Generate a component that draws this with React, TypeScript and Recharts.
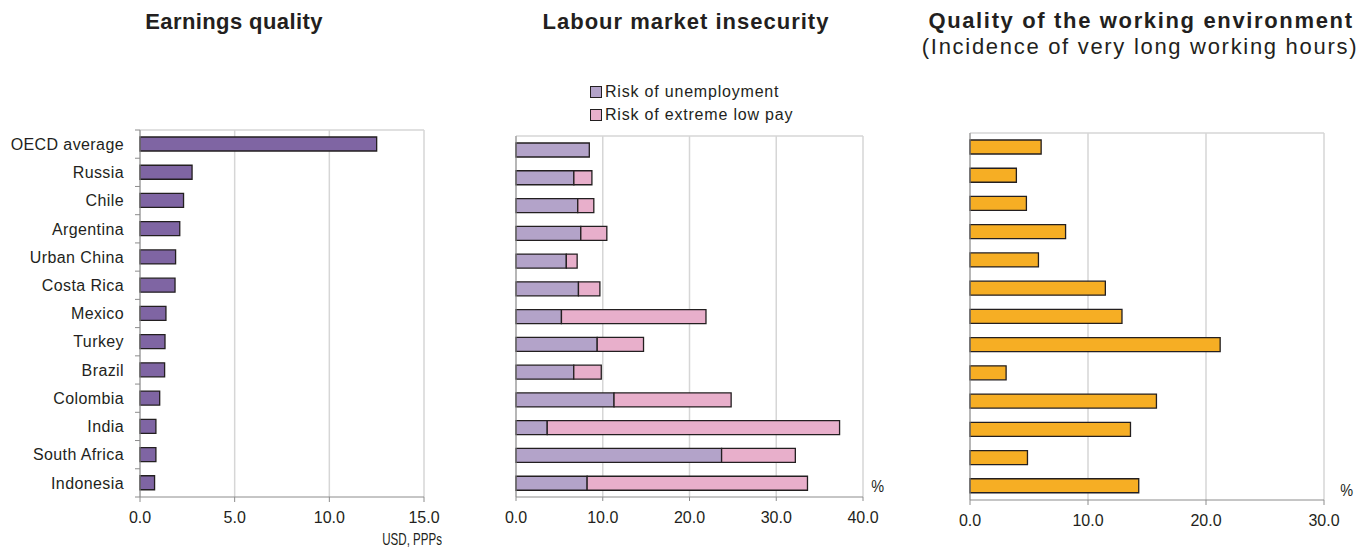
import React from "react";
import { Bar, BarChart, CartesianGrid, Legend, XAxis, YAxis } from "recharts";

const countries = [
  "OECD average",
  "Russia",
  "Chile",
  "Argentina",
  "Urban China",
  "Costa Rica",
  "Mexico",
  "Turkey",
  "Brazil",
  "Colombia",
  "India",
  "South Africa",
  "Indonesia",
];
const earningsQuality = [12.5, 2.75, 2.3, 2.1, 1.88, 1.85, 1.37, 1.32, 1.3, 1.04, 0.84, 0.84, 0.77];
const unemploymentRisk = [8.45, 6.67, 7.12, 7.47, 5.8, 7.2, 5.24, 9.36, 6.66, 11.3, 3.6, 23.7, 8.2];
const lowPayRisk = [0, 2.08, 1.85, 3.0, 1.25, 2.47, 16.66, 5.34, 3.17, 13.5, 33.7, 8.5, 25.4];
const longHours = [6.03, 3.93, 4.78, 8.1, 5.8, 11.47, 12.88, 21.2, 3.06, 15.8, 13.6, 4.87, 14.3];

const earningsTicks = [0, 5, 10, 15];
const insecurityTicks = [0, 10, 20, 30, 40];
const hoursTicks = [0, 10, 20, 30];

const FONT = "'Liberation Sans', Arial, sans-serif";
const TEXT = "#231f20";
const AXIS = "#8c8c8c";
const GRID = "#d6d6d6";
const EDGE = "#231f20";

const data = countries.map((name, i) => ({
  name,
  earnings: earningsQuality[i],
  unemployment: unemploymentRisk[i],
  lowPay: lowPayRisk[i],
  hours: longHours[i],
}));

const fmt = (v: number) => v.toFixed(1);
const topLine = ({ offset }: any) => [offset.top];

// panel 1 plot box
const P1_TOP = 130;
const P1_BOTTOM = 497;
const BAND1 = (P1_BOTTOM - P1_TOP) / countries.length;

function CountryTick(props: any) {
  const { x, y, payload, index } = props;
  const axisX = x + 16;
  const half = BAND1 / 2;
  return (
    <g>
      <line x1={axisX - 5} x2={axisX} y1={y - half} y2={y - half} stroke={AXIS} />
      {index === countries.length - 1 && (
        <line x1={axisX - 5} x2={axisX} y1={y + half} y2={y + half} stroke={AXIS} />
      )}
      <text
        x={x}
        y={y}
        dy="0.36em"
        textAnchor="end"
        fill={TEXT}
        fontSize={16}
        fontFamily={FONT}
        letterSpacing={0.4}
      >
        {payload.value}
      </text>
    </g>
  );
}

const xTick = { fill: TEXT, fontSize: 16, fontFamily: FONT };

function InsecurityLegend() {
  const rows = [
    { label: "Risk of unemployment", color: "#b3a3c9" },
    { label: "Risk of extreme low pay", color: "#e8afcb" },
  ];
  return (
    <div style={{ fontFamily: FONT, fontSize: 16, color: TEXT, letterSpacing: 0.8 }}>
      {rows.map((r) => (
        <div key={r.label} style={{ display: "flex", alignItems: "center", height: 23 }}>
          <span
            style={{
              display: "inline-block",
              width: 10,
              height: 10,
              background: r.color,
              border: `1px solid ${EDGE}`,
              marginRight: 3,
            }}
          />
          <span>{r.label}</span>
        </div>
      ))}
    </div>
  );
}

const abs = (left: number, top: number, extra: React.CSSProperties = {}): React.CSSProperties => ({
  position: "absolute",
  left,
  top,
  fontFamily: FONT,
  color: TEXT,
  whiteSpace: "nowrap",
  ...extra,
});

export default function App() {
  return (
    <div style={{ position: "absolute", left: 0, top: 0, width: 1368, height: 552, background: "#fff" }}>
      <div style={abs(34, 9, { width: 400, textAlign: "center", fontSize: 22, fontWeight: "bold", lineHeight: "26px", letterSpacing: 0.4 })}>
        Earnings quality
      </div>
      <div style={abs(486, 9, { width: 400, textAlign: "center", fontSize: 22, fontWeight: "bold", lineHeight: "26px", letterSpacing: 1 })}>
        Labour market insecurity
      </div>
      <div style={abs(891, 8, { width: 500, textAlign: "center", fontSize: 22, fontWeight: "bold", lineHeight: "26px", letterSpacing: 1.65 })}>
        Quality of the working environment
      </div>
      <div style={abs(890, 34, { width: 500, textAlign: "center", fontSize: 22, lineHeight: "26px", letterSpacing: 1.7 })}>
        (Incidence of very long working hours)
      </div>

      <div style={abs(0, 0)}>
        <BarChart width={450} height={552} data={data} layout="vertical" margin={{ top: P1_TOP, right: 26, bottom: 15, left: 0 }}>
          <CartesianGrid stroke={GRID} strokeWidth={1.5} horizontalCoordinatesGenerator={topLine} />
          <XAxis
            type="number"
            domain={[0, 15]}
            ticks={earningsTicks}
            tickFormatter={fmt}
            height={40}
            tickSize={5}
            tickMargin={10}
            stroke={AXIS}
            tick={xTick}
          />
          <YAxis
            type="category"
            dataKey="name"
            width={140}
            tickSize={5}
            tickMargin={11}
            tickLine={false}
            stroke={AXIS}
            tick={<CountryTick />}
            interval={0}
          />
          <Bar dataKey="earnings" fill="#7f65a3" stroke={EDGE} strokeWidth={1.3} barSize={14} isAnimationActive={false} />
        </BarChart>
      </div>
      <div
        style={abs(322, 530, {
          width: 120,
          textAlign: "right",
          fontSize: 17,
          lineHeight: "20px",
          transform: "scaleX(0.68)",
          transformOrigin: "right center",
        })}
      >
        USD, PPPs
      </div>

      <div style={abs(480, 0)}>
        <BarChart width={420} height={552} data={data} layout="vertical" margin={{ top: 136, right: 37, bottom: 15, left: 0 }}>
          <CartesianGrid stroke={GRID} strokeWidth={1.5} horizontalCoordinatesGenerator={topLine} />
          <XAxis
            type="number"
            domain={[0, 40]}
            ticks={insecurityTicks}
            tickFormatter={fmt}
            height={40}
            tickSize={4}
            tickMargin={11}
            stroke={AXIS}
            tick={xTick}
          />
          <YAxis type="category" dataKey="name" width={36} tick={false} tickLine={false} stroke={AXIS} />
          <Legend
            layout="horizontal"
            verticalAlign="middle"
            align="center"
            content={<InsecurityLegend />}
            wrapperStyle={{ top: 80, left: 110, width: 250 }}
          />
          <Bar dataKey="unemployment" stackId="a" fill="#b3a3c9" stroke={EDGE} strokeWidth={1.3} barSize={14} isAnimationActive={false} />
          <Bar dataKey="lowPay" stackId="a" fill="#e8afcb" stroke={EDGE} strokeWidth={1.3} barSize={14} isAnimationActive={false} />
        </BarChart>
      </div>
      <div style={abs(870, 477, { fontSize: 17, lineHeight: "20px", transform: "scaleX(0.85)" })}>%</div>

      <div style={abs(930, 0)}>
        <BarChart width={438} height={552} data={data} layout="vertical" margin={{ top: 133, right: 44, bottom: 12, left: 0 }}>
          <CartesianGrid stroke={GRID} strokeWidth={1.5} horizontalCoordinatesGenerator={topLine} />
          <XAxis
            type="number"
            domain={[0, 30]}
            ticks={hoursTicks}
            tickFormatter={fmt}
            height={40}
            tickSize={5}
            tickMargin={10}
            stroke={AXIS}
            tick={xTick}
          />
          <YAxis type="category" dataKey="name" width={40} tick={false} tickLine={false} stroke={AXIS} />
          <Bar dataKey="hours" fill="#f6ae24" stroke={EDGE} strokeWidth={1.3} barSize={14} isAnimationActive={false} />
        </BarChart>
      </div>
      <div style={abs(1339, 481, { fontSize: 17, lineHeight: "20px", transform: "scaleX(0.85)" })}>%</div>
    </div>
  );
}
